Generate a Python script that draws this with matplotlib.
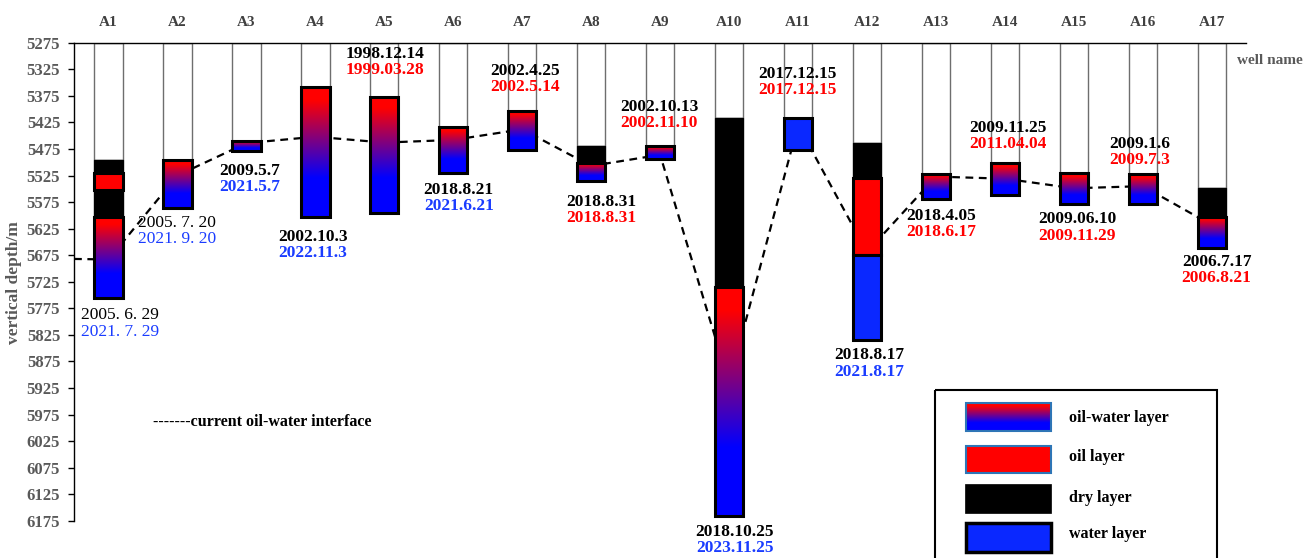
import numpy as np
import matplotlib
matplotlib.use('Agg')
from matplotlib import pyplot as plt
from matplotlib.patches import Rectangle
from matplotlib.colors import LinearSegmentedColormap

plt.rcParams['font.family'] = ['Liberation Serif', 'DejaVu Serif']

# Well names along the top
wells = ['A1', 'A2', 'A3', 'A4', 'A5', 'A6', 'A7', 'A8', 'A9', 'A10',
         'A11', 'A12', 'A13', 'A14', 'A15', 'A16', 'A17']

# Layers, top to bottom in each well (depth in m)
# ow = oil-water layer, oil = oil layer, dry = dry layer, water = water layer
layer_well = [1, 1, 1, 1, 2, 3, 4, 5, 6, 7, 8, 8, 9, 10, 10, 11,
              12, 12, 12, 13, 14, 15, 16, 17, 17]
layer_top = [5495, 5520, 5552, 5603, 5495, 5460, 5359, 5377, 5433, 5403,
             5470, 5501, 5470, 5416, 5735, 5416, 5463, 5530, 5675, 5522,
             5502, 5521, 5523, 5548, 5603]
layer_base = [5520, 5552, 5603, 5756, 5586, 5479, 5603, 5596, 5521, 5477,
              5501, 5535, 5493, 5735, 6165, 5477, 5530, 5675, 5835, 5570,
              5561, 5579, 5579, 5603, 5662]
layer_type = ['dry', 'oil', 'dry', 'ow', 'ow', 'ow', 'ow', 'ow', 'ow', 'ow',
              'dry', 'ow', 'ow', 'dry', 'ow', 'water', 'dry', 'oil', 'water', 'ow',
              'ow', 'ow', 'ow', 'dry', 'ow']

# Current oil-water interface (starts at the depth axis)
interface_x = [0.5, 1, 2, 3, 4, 5, 6, 7, 8, 9, 10, 11, 12, 13, 14, 15, 16, 17]
interface_depth = [5682, 5683, 5525, 5464, 5452, 5463, 5458, 5438, 5507, 5486,
                   5916, 5430, 5669, 5527, 5531, 5549, 5545, 5618]

# Dates written beside each well
date_first = ['2005. 6. 29', '2005. 7. 20', '2009.5.7', '2002.10.3', '1998.12.14',
              '2018.8.21', '2002.4.25', '2018.8.31', '2002.10.13', '2018.10.25',
              '2017.12.15', '2018.8.17', '2018.4.05', '2009.11.25', '2009.06.10',
              '2009.1.6', '2006.7.17']
date_second = ['2021. 7. 29', '2021. 9. 20', '2021.5.7', '2022.11.3', '1999.03.28',
               '2021.6.21', '2002.5.14', '2018.8.31', '2002.11.10', '2023.11.25',
               '2017.12.15', '2021.8.17', '2018.6.17', '2011.04.04', '2009.11.29',
               '2009.7.3', '2006.8.21']
date_second_kind = ['water', 'water', 'water', 'water', 'oil', 'water', 'oil', 'oil',
                    'oil', 'water', 'oil', 'water', 'oil', 'oil', 'oil', 'oil', 'oil']

# where the date pairs sit (x in well units, depth of first line)
date_x = [1.17, 1.99, 3.05, 3.96, 5.01, 6.08, 7.04, 8.14, 8.99, 10.08,
          10.99, 12.03, 13.08, 14.04, 15.05, 15.96, 17.07]
date_y = [5788, 5614, 5516, 5640, 5296, 5552, 5328, 5574, 5396, 6195,
          5333, 5863, 5601, 5435, 5607, 5465, 5687]

red = '#ff0000'
blue = '#0a28ff'
text_blue = '#1a3cff'
ow_cmap = LinearSegmentedColormap.from_list(
    'ow', [(0, '#ff0000'), (0.1, '#ff0000'), (0.7, '#0000ff'), (1, '#0000ff')])
grad = np.linspace(0, 1, 256).reshape(-1, 1)

fig = plt.figure(figsize=(13.06, 5.58), dpi=100)
ax = fig.add_axes([0.0567, 0.0665, 0.8975, 0.857])

bar_w = 0.41

# well bores, white down to the first layer
for i in range(len(wells)):
    x = i + 1
    tops = [layer_top[j] for j in range(len(layer_well)) if layer_well[j] == x]
    ax.add_patch(Rectangle((x - bar_w / 2, 5275), bar_w, min(tops) - 5275,
                           fc='white', ec='#6e6e6e', lw=1, zorder=1))

# interface line goes behind the layers
ax.plot(interface_x, interface_depth, color='black', lw=1.6, dashes=(3.5, 2.5), zorder=2)

# the layers
for j in range(len(layer_well)):
    x = layer_well[j]
    left = x - bar_w / 2
    top = layer_top[j]
    base = layer_base[j]
    kind = layer_type[j]
    if kind == 'ow':
        ax.imshow(grad, cmap=ow_cmap, extent=(left, left + bar_w, base, top),
                  origin='upper', aspect='auto', interpolation='bilinear', zorder=3)
        ax.add_patch(Rectangle((left, top), bar_w, base - top, fill=False,
                               ec='black', lw=2.2, zorder=4))
    elif kind == 'dry':
        ax.add_patch(Rectangle((left, top), bar_w, base - top, fc='black',
                               ec='black', lw=1, zorder=3))
    elif kind == 'oil':
        ax.add_patch(Rectangle((left, top), bar_w, base - top, fc=red,
                               ec='black', lw=2.2, zorder=4))
    else:
        ax.add_patch(Rectangle((left, top), bar_w, base - top, fc=blue,
                               ec='black', lw=2.2, zorder=4))

# date labels
for i in range(len(wells)):
    wt = 'bold'
    if i < 2:
        wt = 'normal'
    c2 = red
    if date_second_kind[i] == 'water':
        c2 = text_blue
    ax.text(date_x[i], date_y[i], date_first[i], ha='center', va='center',
            fontsize=12.5, fontweight=wt, color='black', zorder=6, clip_on=False)
    ax.text(date_x[i], date_y[i] + 31, date_second[i], ha='center', va='center',
            fontsize=12.5, fontweight=wt, color=c2, zorder=6, clip_on=False)

ax.set_xlim(0.5, 17.5)
ax.set_ylim(6175, 5275)
ax.set_yticks(np.arange(5275, 6176, 50))
ax.tick_params(axis='y', direction='out', length=4, width=1, pad=6,
               labelcolor='#595959', labelsize=12)
for lab in ax.get_yticklabels():
    lab.set_fontweight('bold')
ax.xaxis.tick_top()
ax.set_xticks(range(1, len(wells) + 1))
ax.set_xticklabels(wells, fontsize=11, fontweight='bold', color='#404040')
ax.tick_params(axis='x', length=0, pad=10)
ax.spines['right'].set_visible(False)
ax.spines['bottom'].set_visible(False)
ax.spines['top'].set_linewidth(1)
ax.spines['left'].set_linewidth(1)

fig.text(14 / 1306, 1 - 283 / 558, 'vertical depth/m', rotation=90, ha='center',
         va='center', fontsize=12.5, fontweight='bold', color='#595959')
fig.text(1270 / 1306, 1 - 61 / 558, 'well name', ha='center', va='center',
         fontsize=11, fontweight='bold', color='#595959')
fig.text(153 / 1306, 1 - 422 / 558, '-------current oil-water interface', ha='left',
         va='center', fontsize=11.5, fontweight='bold', color='black')

# legend box, drawn in pixel units
lax = fig.add_axes([920 / 1306, 0, 386 / 1306, 178 / 558])
lax.set_xlim(920, 1306)
lax.set_ylim(558, 380)
lax.axis('off')
lax.add_patch(Rectangle((935, 390), 282, 200, fill=False, ec='black', lw=1.5))
lax.imshow(grad, cmap=ow_cmap, extent=(966, 1051, 431, 403), origin='upper',
           aspect='auto', interpolation='bilinear')
lax.add_patch(Rectangle((966, 403), 85, 28, fill=False, ec='#2e75b6', lw=1.5))
lax.add_patch(Rectangle((966, 446), 85, 27, fc=red, ec='#2e75b6', lw=1.5))
lax.add_patch(Rectangle((965, 484), 86, 29, fc='black', ec='black', lw=0.5))
lax.add_patch(Rectangle((966, 523), 85, 28.5, fc=blue, ec='black', lw=2.5))
legend_names = ['oil-water layer', 'oil layer', 'dry layer', 'water layer']
legend_y = [418, 457, 498, 534]
for k in range(4):
    lax.text(1069, legend_y[k], legend_names[k], ha='left', va='center',
             fontsize=11.5, fontweight='bold', color='black')
lax.set_xlim(920, 1306)
lax.set_ylim(558, 380)

fig.savefig('out.png', dpi=100)
